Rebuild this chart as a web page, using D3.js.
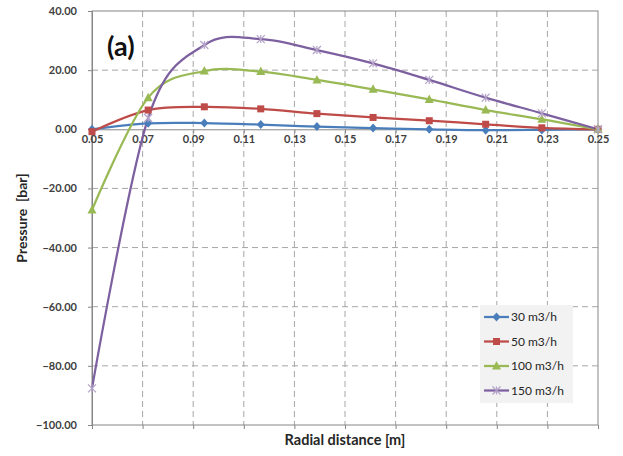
<!DOCTYPE html>
<html>
<head>
<meta charset="utf-8">
<script src="https://cdn.jsdelivr.net/npm/d3@7"></script>
<style>
  html, body { margin: 0; padding: 0; background: #fff; }
  svg { display: block; font-family: Lato, "Open Sans", sans-serif; }
</style>
</head>
<body>
<svg id="chart" width="623" height="456"></svg>
<script>
// ---- data ----
const radial = [0.05, 0.0722, 0.0944, 0.1167, 0.1389, 0.1611, 0.1833, 0.2056, 0.2278, 0.25];
const q30  = [0, 2.0, 2.1, 1.6, 0.9, 0.4, 0.0, -0.3, -0.2, 0];
const q50  = [-0.8, 6.5, 7.6, 6.9, 5.3, 4.0, 2.9, 1.7, 0.5, 0];
const q100 = [-27.3, 10.7, 19.7, 19.5, 16.7, 13.5, 10.1, 6.5, 3.4, 0];
const q150 = [-87.6, 3.8, 28.5, 30.5, 26.8, 22.3, 16.7, 10.7, 5.4, 0];
const seriesNames = ["30 m3/h", "50 m3/h", "100 m3/h", "150 m3/h"];
const xTicks = [0.05, 0.07, 0.09, 0.11, 0.13, 0.15, 0.17, 0.19, 0.21, 0.23, 0.25];
const yTicks = [40, 20, 0, -20, -40, -60, -80, -100];
const xTitle = "Radial distance [m]";
const yTitle = "Pressure\u00a0 [bar]";
const panelLabel = "(a)";

const colors = ["#4a7ebb", "#be4b48", "#98b954", "#7d60a0"];
const markers = ["diamond", "square", "triangle", "star"];
const series = [q30, q50, q100, q150].map((vals, i) => ({
  name: seriesNames[i], color: colors[i], marker: markers[i],
  pts: vals.map((v, j) => ({ x: radial[j], y: v }))
}));

const svg = d3.select("#chart");
const L = 92, R = 598, T = 11, B = 425;
const x = d3.scaleLinear().domain([0.05, 0.25]).range([L, R]);
const y = d3.scaleLinear().domain([-100, 40]).range([B, T]);

// gridlines
const grid = svg.append("g");
grid.selectAll("line.v").data(xTicks.filter(t => t > 0.051 && t < 0.249)).join("line")
  .attr("x1", d => x(d)).attr("x2", d => x(d)).attr("y1", T).attr("y2", B)
  .attr("stroke", "#a6a6a6").attr("stroke-width", 1).attr("stroke-dasharray", "6,4");
grid.selectAll("line.h").data(yTicks.filter(t => t !== 0 && t !== 40 && t !== -100)).join("line")
  .attr("x1", L).attr("x2", R).attr("y1", d => y(d)).attr("y2", d => y(d))
  .attr("stroke", "#a6a6a6").attr("stroke-width", 1).attr("stroke-dasharray", "6,4");

// plot border
svg.append("rect").attr("x", L).attr("y", T).attr("width", R - L).attr("height", B - T)
  .attr("fill", "none").attr("stroke", "#868686").attr("stroke-width", 1);

// y axis
const yAxis = d3.axisLeft(y).tickValues(yTicks).tickSize(4).tickFormat(d3.format(".2f"));
const gy = svg.append("g").attr("transform", `translate(${L},0)`).call(yAxis);
gy.select(".domain").attr("stroke", "#868686");
gy.selectAll(".tick line").attr("stroke", "#868686");
gy.selectAll(".tick text").attr("x", -15).attr("fill", "#404040")
  .attr("font-size", 11).attr("font-weight", "bold").attr("font-family", "Lato, sans-serif");

// x axis at zero
const xAxis = d3.axisBottom(x).tickValues(xTicks).tickSize(4).tickFormat(d3.format(".2f"));
const gx = svg.append("g").attr("transform", `translate(0,${y(0)})`).call(xAxis);
gx.select(".domain").attr("stroke", "#868686");
gx.selectAll(".tick line").attr("stroke", "#868686");
gx.selectAll(".tick text").attr("y", 6).attr("fill", "#404040")
  .attr("font-size", 11).attr("font-weight", "bold").attr("font-family", "Lato, sans-serif");

// bottom ticks
svg.append("g").attr("transform", `translate(0,${B})`)
  .call(d3.axisBottom(x).tickValues(xTicks).tickSize(4).tickFormat(""))
  .call(g => g.select(".domain").remove())
  .selectAll("line").attr("stroke", "#868686");

// lines
const line = d3.line().x(d => x(d.x)).y(d => y(d.y)).curve(d3.curveCardinal.tension(0));
const plot = svg.append("g");
series.forEach(s => {
  plot.append("path").datum(s.pts).attr("d", line)
    .attr("fill", "none").attr("stroke", s.color).attr("stroke-width", 2.25);
});

function drawMarker(g, type, cx, cy, color) {
  if (type === "diamond") {
    g.append("path").attr("d", `M${cx},${cy-4.5}L${cx+4},${cy}L${cx},${cy+4.5}L${cx-4},${cy}Z`).attr("fill", color);
  } else if (type === "square") {
    g.append("rect").attr("x", cx-3.5).attr("y", cy-3.5).attr("width", 7).attr("height", 7).attr("fill", color);
  } else if (type === "triangle") {
    g.append("path").attr("d", `M${cx},${cy-5}L${cx+4.5},${cy+3.5}L${cx-4.5},${cy+3.5}Z`).attr("fill", color);
  } else {
    g.append("path").attr("d", `M${cx-4},${cy-4}L${cx+4},${cy+4}M${cx-4},${cy+4}L${cx+4},${cy-4}M${cx},${cy-4}L${cx},${cy+4}`)
      .attr("stroke", "#b3a2c7").attr("stroke-width", 1.2).attr("fill", "none");
  }
}
series.forEach(s => {
  const g = plot.append("g");
  s.pts.forEach(p => drawMarker(g, s.marker, x(p.x), y(p.y), s.color));
});

// legend
const lg = svg.append("g");
lg.append("rect").attr("x", 480).attr("y", 305).attr("width", 93).attr("height", 98).attr("fill", "#f2f2f2");
series.forEach((s, i) => {
  const ly = 317 + i * 24.5;
  lg.append("line").attr("x1", 484).attr("x2", 509).attr("y1", ly).attr("y2", ly)
    .attr("stroke", s.color).attr("stroke-width", 2.25);
  drawMarker(lg, s.marker, 496.5, ly, s.color);
  lg.append("text").attr("x", 511).attr("y", ly).attr("dy", "0.35em")
    .attr("font-size", 12).attr("fill", "#262626").text(s.name);
});

// titles
svg.append("text").attr("x", (L + R) / 2).attr("y", 445).attr("text-anchor", "middle")
  .attr("font-size", 14.5).attr("font-weight", "bold").attr("fill", "#262626").text(xTitle);
svg.append("text").attr("transform", `translate(27,${(T + B) / 2}) rotate(-90)`)
  .attr("text-anchor", "middle").attr("font-size", 14).attr("font-weight", "bold")
  .attr("fill", "#262626").text(yTitle);
svg.append("text").attr("x", 107).attr("y", 56).attr("font-size", 27).attr("font-weight", "bold")
  .attr("fill", "#111").text(panelLabel);
</script>
</body>
</html>
